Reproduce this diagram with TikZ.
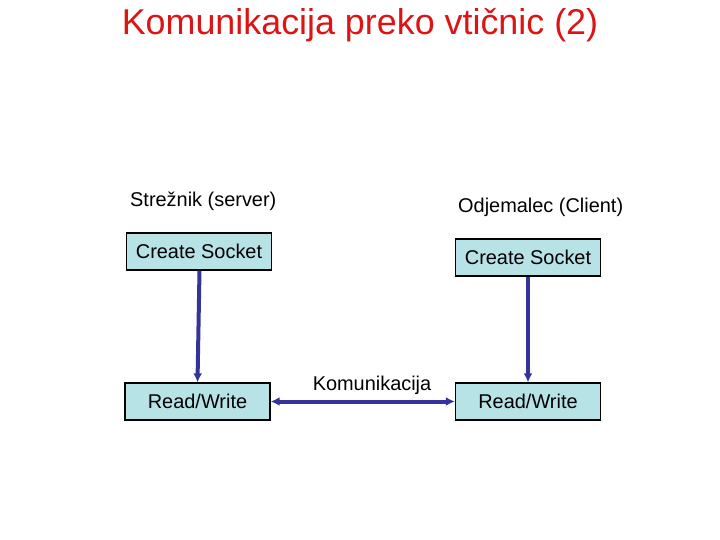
\documentclass[tikz,border=0pt]{standalone}
\usepackage{fontspec}
\setmainfont{Liberation Sans}
\usetikzlibrary{arrows.meta}
\definecolor{boxfill}{RGB}{183,226,230}
\definecolor{linkblue}{RGB}{51,51,153}
\definecolor{titlered}{RGB}{220,20,20}

\begin{document}
\begin{tikzpicture}[x=1bp,y=-1bp,
  stepbox/.style={draw=black, line width=1.3bp, fill=boxfill, minimum width=145bp, minimum height=37bp, inner sep=0pt, font=\fontsize{20}{24}\selectfont},
  link/.style={draw=linkblue, line width=4bp, -{Latex[length=9bp,width=9bp]}},
  lbl/.style={font=\fontsize{20}{24}\selectfont, inner sep=0pt}]
\useasboundingbox (0,0) rectangle (720,540);
\node[font={\fontsize{36}{42}\selectfont}, text=titlered, inner sep=0pt] (title) at (360,25) {Komunikacija preko vtičnic (2)};
\node[lbl, anchor=west] (server) at (130,201) {Strežnik (server)};
\node[lbl, anchor=west] (client) at (458,207) {Odjemalec (Client)};
\node[stepbox] (sockS) at (199,251.5) {Create Socket};
\node[stepbox] (sockC) at (528,257.5) {Create Socket};
\node[stepbox] (rwS) at (197.5,401.5) {Read/Write};
\node[stepbox] (rwC) at (528,401.5) {Read/Write};
\draw[link] ([xshift=0.5bp]sockS.south) -- (rwS.north);
\draw[link] (sockC.south) -- (rwC.north);
\draw[link, {Latex[length=9bp,width=9bp]}-{Latex[length=9bp,width=9bp]}] (rwS.east) -- (rwC.west);
\node[lbl] (comm) at (372,385) {Komunikacija};
\end{tikzpicture}
\end{document}
